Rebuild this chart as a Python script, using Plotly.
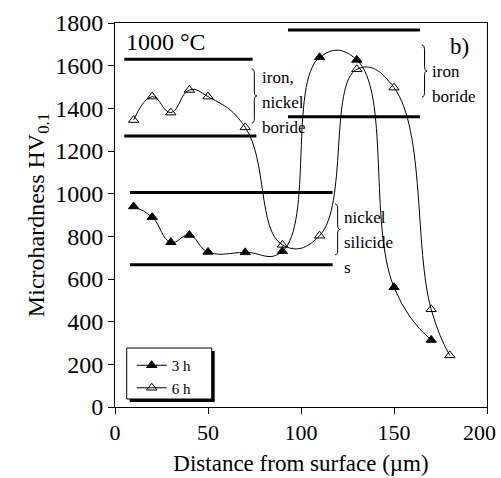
import plotly.graph_objects as go

# ---- data ----
depth_3h = [10, 20, 30, 40, 50, 70, 90, 110, 130, 150, 170]
hv_3h = [940, 890, 772, 806, 727, 725, 730, 1639, 1627, 561, 314]

depth_6h = [10, 20, 30, 40, 50, 70, 90, 110, 130, 150, 170, 180]
hv_6h = [1345, 1455, 1380, 1486, 1455, 1311, 760, 803, 1583, 1497, 458, 242]

x_tickvals = [0, 50, 100, 150, 200]
x_ticktext = ["0", "50", "100", "150", ""]
x_last_label = "200"   # drawn inside the page edge, as in the reference

# phase-band boundary lines (x start, x end, hardness level)
band_x0 = [5, 5, 8, 8, 93, 93]
band_x1 = [74, 76, 117, 117, 164, 164]
band_y = [1630, 1270, 1005, 667, 1767, 1361]

# braces (x, y_top, y_bottom) and labels
brace_x = [73.5, 165.0, 118.3]
brace_top = [1585, 1697, 952]
brace_bot = [1331, 1453, 713]

label_x = [78.0, 169.5, 122.0]
label_lines = [["iron,", "nickel", "boride"], ["iron", "boride"], ["nickel", "silicide", "s"]]
label_y0 = [1545, 1573, 889]
label_step = 117

FONT = "Liberation Serif"

fig = go.Figure()
fig.add_trace(go.Scatter(
    x=depth_3h, y=hv_3h, name="3 h", mode="lines+markers",
    line=dict(color="black", width=1, shape="spline", smoothing=1.3),
    marker=dict(symbol="triangle-up", size=9, color="black", line=dict(color="black", width=1)),
))
fig.add_trace(go.Scatter(
    x=depth_6h, y=hv_6h, name="6 h", mode="lines+markers",
    line=dict(color="black", width=1, shape="spline", smoothing=1.3),
    marker=dict(symbol="triangle-up-open", size=9, color="black", line=dict(color="black", width=1)),
))

shapes = []
for x0, x1, y in zip(band_x0, band_x1, band_y):
    shapes.append(dict(type="line", xref="x", yref="y", x0=x0, x1=x1, y0=y, y1=y,
                       line=dict(color="black", width=3)))

def brace_path(x, yt, yb, w=2.8, d=22):
    ym = (yt + yb) / 2
    h = x + w / 2
    return (f"M {x},{yt} Q {h},{yt} {h},{yt-d} L {h},{ym+d} Q {h},{ym} {x+w},{ym} "
            f"Q {h},{ym} {h},{ym-d} L {h},{yb+d} Q {h},{yb} {x},{yb}")

for x, yt, yb in zip(brace_x, brace_top, brace_bot):
    shapes.append(dict(type="path", xref="x", yref="y", path=brace_path(x, yt, yb),
                       line=dict(color="black", width=1)))

# legend box with drop shadow (paper coords)
shapes.append(dict(type="rect", xref="paper", yref="paper", x0=0.0396, x1=0.268, y0=0.0130, y1=0.146,
                   line=dict(width=0), fillcolor="black", layer="above"))
shapes.append(dict(type="rect", xref="paper", yref="paper", x0=0.0315, x1=0.260, y0=0.0208, y1=0.1536,
                   line=dict(width=1, color="black"), fillcolor="white", layer="above"))

annotations = []
for lx, lines, y0 in zip(label_x, label_lines, label_y0):
    for i, t in enumerate(lines):
        annotations.append(dict(x=lx, y=y0 - i * label_step, xref="x", yref="y", text=t,
                                showarrow=False, xanchor="left", yanchor="middle",
                                font=dict(family=FONT, size=17, color="black")))
annotations.append(dict(x=5.0, y=1711, xref="x", yref="y", text="1000 °C", showarrow=False,
                        xanchor="left", yanchor="middle", font=dict(family=FONT, size=24, color="black")))
annotations.append(dict(x=179, y=1688, xref="x", yref="y", text="b)", showarrow=False,
                        xanchor="left", yanchor="middle", font=dict(family=FONT, size=23, color="black")))
annotations.append(dict(x=200, y=0, xref="x", yref="paper", text=x_last_label, showarrow=False,
                        xanchor="right", yanchor="middle", xshift=11, yshift=-25,
                        font=dict(family=FONT, size=22, color="black")))

fig.update_layout(
    width=501, height=478,
    margin=dict(l=115, r=14, t=23, b=71, autoexpand=False),
    paper_bgcolor="white", plot_bgcolor="white",
    font=dict(family=FONT, size=20, color="black"),
    showlegend=True,
    legend=dict(x=0.045, y=0.151, xanchor="left", yanchor="top",
                borderwidth=0, bgcolor="rgba(0,0,0,0)",
                font=dict(family=FONT, size=15), tracegroupgap=0, itemwidth=30),
    shapes=shapes, annotations=annotations,
)
fig.update_xaxes(range=[0, 200], tickvals=x_tickvals, ticktext=x_ticktext, showgrid=False, zeroline=False,
                 showline=True, linecolor="black", linewidth=1, mirror=True, automargin=False,
                 ticks="outside", ticklen=6, tickcolor="black",
                 tickfont=dict(family=FONT, size=22),
                 title=dict(text="Distance from surface (µm)", font=dict(family=FONT, size=23), standoff=10))
fig.update_yaxes(range=[0, 1800], dtick=200, tick0=0, showgrid=False, zeroline=False,
                 showline=True, linecolor="black", linewidth=1, mirror=True, automargin=False,
                 ticks="outside", ticklen=6, tickcolor="black",
                 tickfont=dict(family=FONT, size=24),
                 title=dict(text="Microhardness HV<sub>0.1</sub>", font=dict(family=FONT, size=24), standoff=3))

fig.write_html("out.html")
